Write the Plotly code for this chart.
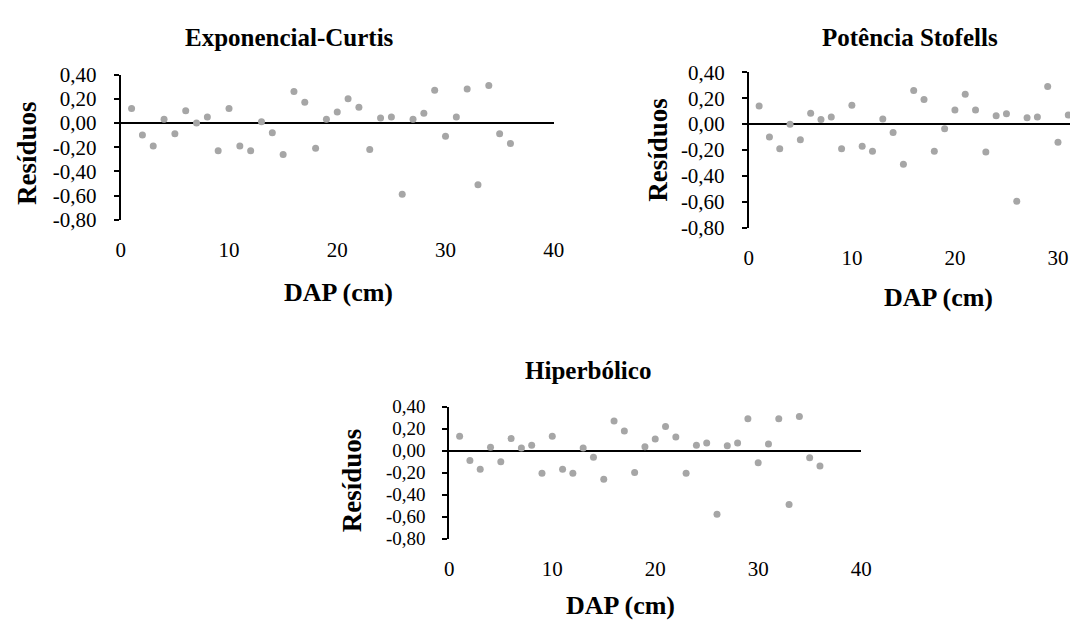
import plotly.graph_objects as go

# ---------------- data ----------------
dap = [1, 2, 3, 4, 5, 6, 7, 8, 9, 10, 11, 12, 13, 14, 15, 16, 17, 18,
       19, 20, 21, 22, 23, 24, 25, 26, 27, 28, 29, 30, 31, 32, 33, 34, 35, 36]

res_exponencial = [0.12, -0.10, -0.19, 0.03, -0.09, 0.10, 0.00, 0.05, -0.23, 0.12,
                   -0.19, -0.23, 0.01, -0.08, -0.26, 0.26, 0.17, -0.21, 0.03, 0.09,
                   0.20, 0.13, -0.22, 0.04, 0.05, -0.59, 0.03, 0.08, 0.27, -0.11,
                   0.05, 0.28, -0.51, 0.31, -0.09, -0.17]

# only the points visible in the (cropped) reference
res_potencia = [0.14, -0.10, -0.19, 0.00, -0.12, 0.085, 0.035, 0.055, -0.19, 0.145,
                -0.17, -0.21, 0.04, -0.065, -0.31, 0.26, 0.19, -0.21, -0.035, 0.11,
                0.23, 0.11, -0.215, 0.065, 0.08, -0.595, 0.05, 0.055, 0.29, -0.14,
                0.07]

res_hiperbolico = [0.13, -0.09, -0.17, 0.03, -0.10, 0.11, 0.025, 0.05, -0.205, 0.13,
                   -0.17, -0.205, 0.025, -0.06, -0.26, 0.27, 0.18, -0.20, 0.035, 0.105,
                   0.22, 0.125, -0.205, 0.05, 0.07, -0.58, 0.045, 0.07, 0.29, -0.11,
                   0.06, 0.29, -0.49, 0.31, -0.065, -0.14]

titles = ["Exponencial-Curtis", "Potência Stofells", "Hiperbólico"]
x_title = "DAP (cm)"
y_title = "Resíduos"
y_tickvals = [-0.8, -0.6, -0.4, -0.2, 0.0, 0.2, 0.4]
y_ticktext = ["-0,80", "-0,60", "-0,40", "-0,20", "0,00", "0,20", "0,40"]
x_tickvals = [0, 10, 20, 30, 40]

# ---------------- layout geometry (pixels) ----------------
W, H = 1081, 632
FONT = "Liberation Serif"
MARKER = "#A6A6A6"

def px_x(x):
    return x / W

def px_y(y):
    return 1 - y / H

# (left, right, top, bottom, xmax_visible, y tick font size)
panels = [
    dict(l=117.5, r=557, t=65, b=216, xmax=40, yfs=21),
    dict(l=755, r=W, t=62.7, b=224.3, xmax=(W - 755) / 10.46, yfs=21),
    dict(l=451, r=869, t=410.3, b=547.3, xmax=40, yfs=19),
]
series = [res_exponencial, res_potencia, res_hiperbolico]

fig = go.Figure()
layout = dict(
    width=W, height=H,
    margin=dict(l=0, r=0, t=0, b=0),
    paper_bgcolor="white", plot_bgcolor="white",
    showlegend=False,
    font=dict(family=FONT, color="black"),
)

for i, (p, ys) in enumerate(zip(panels, series)):
    sfx = "" if i == 0 else str(i + 1)
    fig.add_trace(go.Scatter(
        x=dap[:len(ys)], y=ys, mode="markers",
        marker=dict(color=MARKER, size=7),
        xaxis="x" + sfx, yaxis="y" + sfx,
    ))
    layout["xaxis" + sfx] = dict(
        domain=[px_x(p["l"]), px_x(p["r"])],
        range=[0, p["xmax"]],
        anchor="y" + sfx,
        showline=False, showgrid=False, zeroline=False,
        ticks="", tickvals=x_tickvals, ticktext=[str(v) for v in x_tickvals],
        tickfont=dict(family=FONT, size=21, color="black"),
        ticklabelstandoff=15,
    )
    layout["yaxis" + sfx] = dict(
        domain=[px_y(p["b"]), px_y(p["t"])],
        range=[-0.8, 0.4],
        anchor="x" + sfx,
        showline=True, linecolor="black", linewidth=2,
        showgrid=False,
        zeroline=True, zerolinecolor="black", zerolinewidth=2,
        ticks="outside", ticklen=5, tickwidth=2, tickcolor="black",
        tickvals=y_tickvals, ticktext=y_ticktext,
        tickfont=dict(family=FONT, size=p["yfs"], color="black"),
        ticklabelstandoff=13,
    )

# titles and axis titles (pixel centres)
title_pos = [(289, 27), (919, 27), (592, 373)]
xlab_pos = [(339, 292), (948, 297), (625, 617)]
ylab_pos = [(23, 147), (662, 143), (352, 487)]

ann = []
for t, (tx, ty), (xx, xy), (yx, yy) in zip(titles, title_pos, xlab_pos, ylab_pos):
    ann.append(dict(text="<b>%s</b>" % t, x=px_x(tx), y=px_y(ty), xref="paper", yref="paper",
                    xanchor="center", yanchor="middle", showarrow=False,
                    font=dict(family=FONT, size=25, color="black")))
    ann.append(dict(text="<b>%s</b>" % x_title, x=px_x(xx), y=px_y(xy), xref="paper", yref="paper",
                    xanchor="center", yanchor="middle", showarrow=False,
                    font=dict(family=FONT, size=26, color="black")))
    ann.append(dict(text="<b>%s</b>" % y_title, x=px_x(yx), y=px_y(yy), xref="paper", yref="paper",
                    xanchor="center", yanchor="middle", showarrow=False, textangle=-90,
                    font=dict(family=FONT, size=27, color="black")))
layout["annotations"] = ann

fig.update_layout(**layout)
fig.write_html(
    "out.html",
    config={"displayModeBar": False},
    post_script="document.body.style.margin='0';document.body.style.overflow='hidden';",
)
